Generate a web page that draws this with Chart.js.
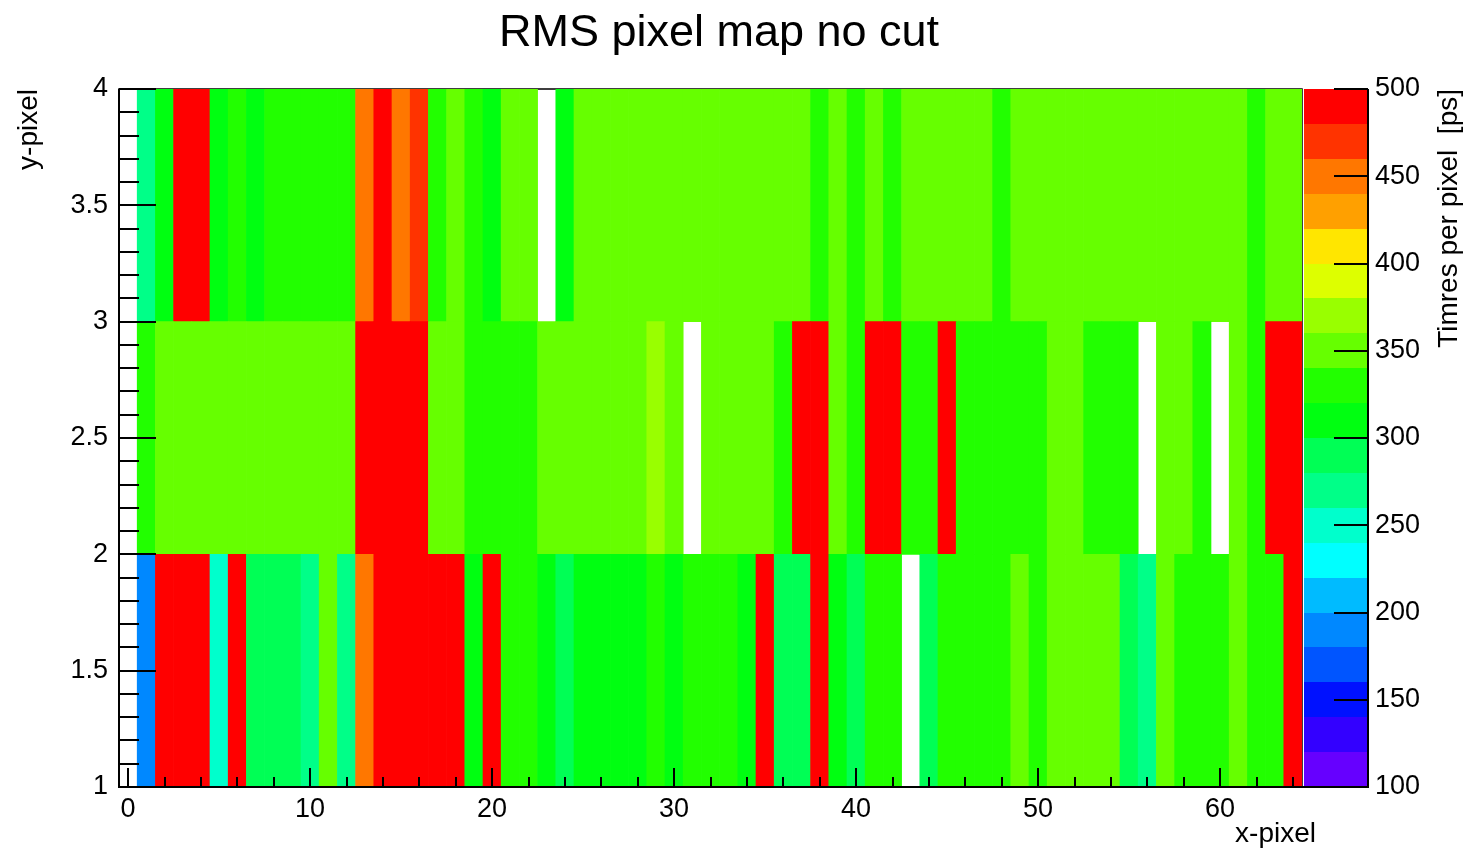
<!DOCTYPE html>
<html>
<head>
<meta charset="utf-8">
<title>RMS pixel map no cut</title>
<script src="https://cdn.jsdelivr.net/npm/chart.js@4.4.1/dist/chart.umd.min.js"></script>
<style>
  html, body { margin: 0; padding: 0; background: #fff; }
  #wrap { width: 1478px; height: 854px; position: relative; }
</style>
</head>
<body>
<div id="wrap"><canvas id="map"></canvas></div>
<script>
// RMS time resolution per pixel [ps], one array per y-pixel row, index = x-pixel (0..64)
// null = empty cell (left white)
const rowY1 = [
  null, 190, 490, 490, 490, 250, 490, 290, 290, 290,
  270, 350, 270, 450, 490, 490, 490, 490, 490, 310,
  490, 330, 330, 310, 290, 310, 310, 310, 310, 330,
  310, 330, 330, 330, 310, 490, 290, 290, 490, 310,
  290, 330, 330, null, 290, 330, 330, 330, 330, 350,
  330, 350, 350, 350, 350, 290, 270, 350, 330, 330,
  330, 350, 330, 330, 490
];
const rowY2 = [
  null, 330, 350, 350, 350, 350, 350, 350, 350, 350,
  350, 350, 350, 490, 490, 490, 490, 350, 350, 330,
  330, 330, 330, 350, 350, 350, 350, 350, 350, 370,
  350, null, 350, 350, 350, 350, 330, 490, 490, 350,
  330, 490, 490, 330, 330, 490, 330, 330, 330, 330,
  330, 350, 350, 330, 330, 330, null, 350, 350, 330,
  null, 350, 330, 490, 490
];
const rowY3 = [
  null, 270, 310, 490, 490, 310, 330, 310, 330, 330,
  330, 330, 330, 450, 490, 450, 470, 330, 350, 330,
  310, 350, 350, null, 310, 350, 350, 350, 350, 350,
  350, 350, 350, 350, 350, 350, 350, 350, 330, 350,
  330, 350, 330, 350, 350, 350, 350, 350, 330, 350,
  350, 350, 350, 350, 350, 350, 350, 350, 350, 350,
  350, 350, 330, 350, 350
];

const yEdges = [1, 2, 3, 4];
const xTickValues = [0, 10, 20, 30, 40, 50, 60];
const yTickValues = [1, 1.5, 2, 2.5, 3, 3.5, 4];
const zTickValues = [100, 150, 200, 250, 300, 350, 400, 450, 500];
const zMin = 100;
const zMax = 500;

// 20 contour colours, low -> high
const palette = [
  "#6600ff", "#3300ff", "#0011ff", "#0055ff", "#0088ff",
  "#00bbff", "#00ffff", "#00ffcc", "#00ff88", "#00ff55",
  "#00ff11", "#22ff00", "#66ff00", "#99ff00", "#ddff00",
  "#ffe600", "#ffa000", "#ff7700", "#ff3300", "#ff0000",
];

const FONT = '"Liberation Sans", Arial, Helvetica, sans-serif';

function colourFor(v) {
  let i = Math.floor(((v - zMin) / (zMax - zMin)) * palette.length);
  i = Math.max(0, Math.min(palette.length - 1, i));
  return palette[i];
}

const rows = [rowY1, rowY2, rowY3];
const datasets = rows.map((vals, r) => ({
  label: "y-pixel " + yEdges[r],
  data: vals
    .map((v, i) => (v === null ? null : { x: i, y: [yEdges[r], yEdges[r + 1]], v: v }))
    .filter((p) => p !== null),
  backgroundColor: (ctx) => (ctx.raw ? colourFor(ctx.raw.v) : "#ffffff"),
  borderWidth: 0,
  grouped: false,
  barPercentage: 1,
  categoryPercentage: 1,
}));

// ROOT style frame, inner ticks and colour palette
const rootFrame = {
  id: "rootFrame",
  beforeDatasetsDraw(chart) {
    const { ctx, chartArea: a } = chart;
    ctx.save();
    ctx.strokeStyle = "#000";
    ctx.lineWidth = 1.5;
    ctx.strokeRect(a.left, a.top, a.right - a.left, a.bottom - a.top);
    ctx.restore();
  },
  afterDatasetsDraw(chart) {
    const { ctx, chartArea: a } = chart;
    const xs = chart.scales.x;
    const ys = chart.scales.y;
    const zs = chart.scales.palette;
    ctx.save();
    ctx.strokeStyle = "#000";
    ctx.lineWidth = 2;

    // axis lines
    ctx.beginPath();
    ctx.moveTo(a.left, a.top);
    ctx.lineTo(a.left, a.bottom);
    ctx.lineTo(a.right, a.bottom);
    ctx.stroke();

    // y ticks: major every 0.5, minor every 0.1
    ctx.beginPath();
    for (let k = 0; k <= 30; k++) {
      const y = Math.round(ys.getPixelForValue(1 + k * 0.1));
      const len = k % 5 === 0 ? 37 : 20;
      ctx.moveTo(a.left, y);
      ctx.lineTo(a.left + len, y);
    }
    // x ticks: major every 10, minor every 2
    for (let v = 0; v <= 64; v += 2) {
      const x = Math.round(xs.getPixelForValue(v));
      const len = v % 10 === 0 ? 19 : 10;
      ctx.moveTo(x, a.bottom);
      ctx.lineTo(x, a.bottom - len);
    }
    ctx.stroke();

    // palette
    const pl = zs.left + 2;
    const pr = zs.left + 66;
    const step = (zMax - zMin) / palette.length;
    palette.forEach((c, i) => {
      const yTop = Math.round(zs.getPixelForValue(zMin + (i + 1) * step));
      const yBot = Math.round(zs.getPixelForValue(zMin + i * step));
      ctx.fillStyle = c;
      ctx.fillRect(pl, yTop, pr - pl, yBot - yTop);
    });
    ctx.beginPath();
    ctx.moveTo(pr, zs.top);
    ctx.lineTo(pr, zs.bottom);
    ctx.lineTo(pl - 2, zs.bottom);
    zTickValues.forEach((v) => {
      const y = Math.round(zs.getPixelForValue(v));
      ctx.moveTo(pr, y);
      ctx.lineTo(pr - 34, y);
    });
    ctx.stroke();

    // axis titles
    ctx.fillStyle = "#000";
    ctx.font = "28px " + FONT;
    ctx.textAlign = "right";
    ctx.textBaseline = "middle";
    ctx.fillText("x-pixel", 1316, 834);

    ctx.translate(1449, a.top);
    ctx.rotate(-Math.PI / 2);
    ctx.fillText("Timres per pixel  [ps]", 0, 0);
    ctx.restore();
  },
};

const tickFont = { family: FONT, size: 27 };

new Chart(document.getElementById("map"), {
  type: "bar",
  data: { datasets: datasets },
  options: {
    responsive: true,
    maintainAspectRatio: false,
    animation: false,
    events: [],
    layout: { padding: { left: 0, right: 40, top: 0, bottom: 0 } },
    plugins: {
      legend: { display: false },
      tooltip: { enabled: false },
      title: {
        display: true,
        text: "RMS pixel map no cut",
        color: "#000",
        font: { family: FONT, size: 45, weight: "normal" },
        padding: { top: 7, bottom: 28 },
      },
    },
    scales: {
      x: {
        type: "linear",
        min: -0.5,
        max: 64.5,
        offset: false,
        grid: { display: false, drawTicks: false },
        border: { display: false },
        afterBuildTicks: (s) => {
          s.ticks = xTickValues.map((v) => ({ value: v }));
        },
        afterFit: (s) => {
          s.height = 67;
          s.paddingLeft = 0;
          s.paddingRight = 0;
        },
        ticks: {
          color: "#000",
          font: tickFont,
          padding: 6,
          maxRotation: 0,
          autoSkip: false,
          callback: (v) => String(v),
        },
      },
      y: {
        type: "linear",
        min: 1,
        max: 4,
        grid: { display: false, drawTicks: false },
        border: { display: false },
        afterBuildTicks: (s) => {
          s.ticks = yTickValues.map((v) => ({ value: v }));
        },
        afterFit: (s) => {
          s.width = 119;
          s.paddingTop = 0;
          s.paddingBottom = 0;
        },
        ticks: {
          color: "#000",
          font: tickFont,
          padding: 11,
          autoSkip: false,
          callback: (v) => String(v),
        },
        title: {
          display: true,
          text: "y-pixel",
          align: "end",
          color: "#000",
          font: { family: FONT, size: 28 },
          padding: { top: 12, bottom: 0 },
        },
      },
      palette: {
        type: "linear",
        axis: "y",
        position: "right",
        min: zMin,
        max: zMax,
        grid: { display: false, drawTicks: false },
        border: { display: false },
        afterBuildTicks: (s) => {
          s.ticks = zTickValues.map((v) => ({ value: v }));
        },
        afterFit: (s) => {
          s.width = 136;
          s.paddingTop = 0;
          s.paddingBottom = 0;
        },
        ticks: {
          color: "#000",
          font: tickFont,
          padding: 73,
          autoSkip: false,
          callback: (v) => String(v),
        },
      },
    },
  },
  plugins: [rootFrame],
});
</script>
</body>
</html>
